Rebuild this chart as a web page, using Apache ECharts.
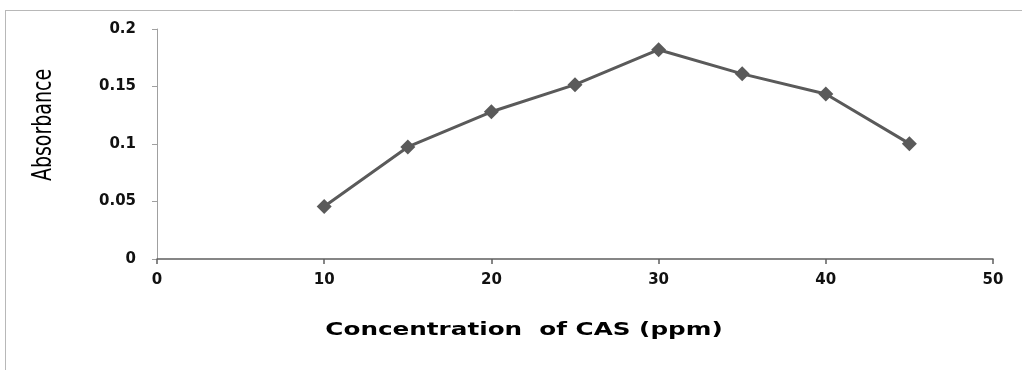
<!DOCTYPE html>
<html><head><meta charset="utf-8">
<script src="https://cdn.jsdelivr.net/npm/echarts@6/dist/echarts.min.js"></script>
<style>html,body{margin:0;padding:0;background:#fff}#c{width:1022px;height:370px}</style>
</head><body><div id="c"></div>
<script>
const concentrations = [10, 15, 20, 25, 30, 35, 40, 45];
const absorbance = [0.0457, 0.0974, 0.128, 0.1516, 0.182, 0.161, 0.1435, 0.1003];
const xTicks = {min: 0, max: 50, step: 10};
const yTicks = {min: 0, max: 0.2, step: 0.05};
const xTitle = 'Concentration  of CAS (ppm)';
const yTitle = 'Absorbance';

const chart = echarts.init(document.getElementById('c'), null, {renderer: 'canvas'});
chart.setOption({
  animation: false,
  backgroundColor: '#fff',
  grid: {left: 157, right: 29, top: 29, bottom: 111, containLabel: false},
  graphic: [
    {type: 'line', shape: {x1: 5, y1: 10.5, x2: 1022, y2: 10.5}, style: {stroke: '#b8b8b8', lineWidth: 1}},
    {type: 'line', shape: {x1: 5.5, y1: 10, x2: 5.5, y2: 370}, style: {stroke: '#b8b8b8', lineWidth: 1}},
    {type: 'text', x: 524, y: 330, scaleX: 1.37,
      style: {text: xTitle, fontFamily: 'DejaVu Sans', fontWeight: 'bold', fontSize: 18, fill: '#000', align: 'center', verticalAlign: 'middle'}},
    {type: 'text', x: 44, y: 125, rotation: Math.PI / 2, scaleX: 0.73,
      style: {text: yTitle, fontFamily: 'DejaVu Sans', fontSize: 26, fill: '#000', align: 'center', verticalAlign: 'middle'}}
  ],
  xAxis: {
    type: 'value', min: xTicks.min, max: xTicks.max, interval: xTicks.step,
    axisLine: {show: true, lineStyle: {color: '#5f5f5f', width: 1.5}},
    axisTick: {show: true, inside: false, length: 5, lineStyle: {color: '#5f5f5f', width: 1.5}},
    axisLabel: {fontFamily: 'DejaVu Sans', fontWeight: 'bold', fontSize: 15, color: '#111', margin: 14},
    splitLine: {show: false}
  },
  yAxis: {
    type: 'value', min: yTicks.min, max: yTicks.max, interval: yTicks.step,
    axisLine: {show: true, lineStyle: {color: '#a0a0a0', width: 1}},
    axisTick: {show: true, inside: false, length: 5, lineStyle: {color: '#a0a0a0', width: 1}},
    axisLabel: {fontFamily: 'DejaVu Sans', fontWeight: 'bold', fontSize: 15, color: '#111', margin: 21},
    splitLine: {show: false}
  },
  series: [{
    type: 'line',
    data: concentrations.map((c, i) => [c, absorbance[i]]),
    symbol: 'diamond', symbolSize: 15,
    lineStyle: {color: '#5a5a5a', width: 3},
    itemStyle: {color: '#5a5a5a'}
  }]
});
</script></body></html>
